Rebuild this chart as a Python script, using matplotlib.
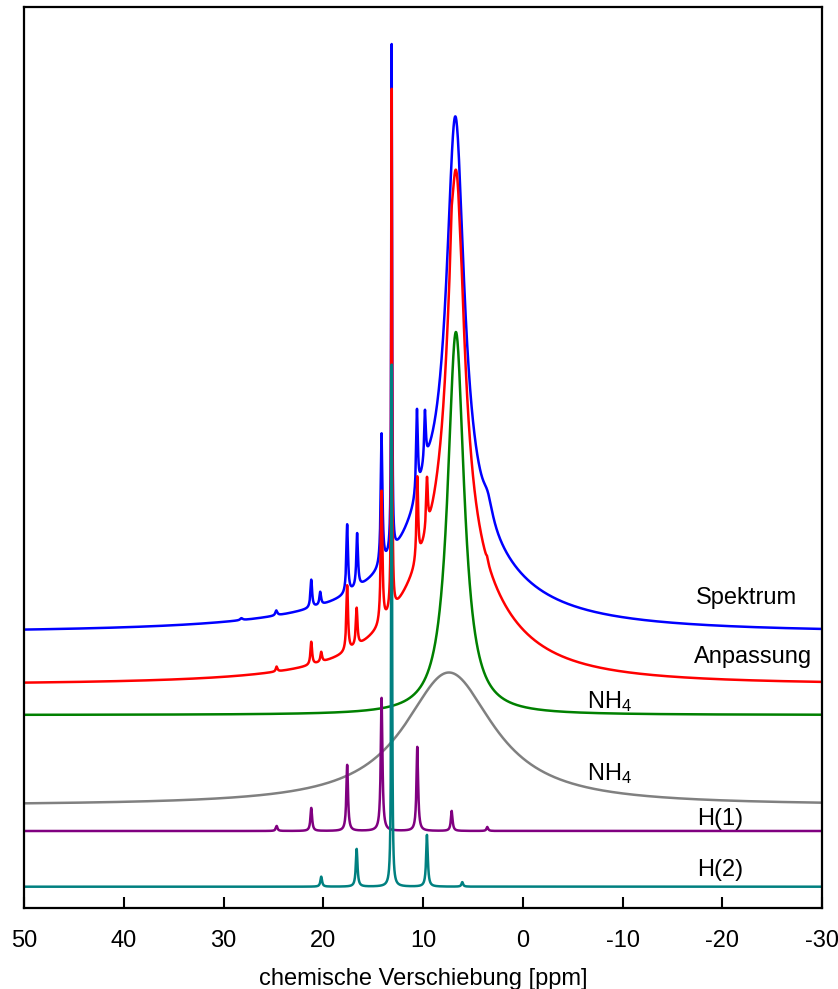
import numpy as np
import matplotlib
matplotlib.use("Agg")
import matplotlib.pyplot as plt

plt.rcParams['font.family'] = ['Liberation Sans', 'DejaVu Sans']
plt.rcParams['mathtext.default'] = 'regular'
plt.rcParams['axes.unicode_minus'] = False

# chemical shift axis in ppm
shift = np.linspace(-30, 50, 32001)

# Lorentzian line lists: position (ppm), height, half width at half maximum (ppm)
# H(2) proton site
h2_pos = [20.2, 16.65, 13.14, 9.6, 6.06]
h2_amp = [10.0, 37.7, 522.0, 51.7, 4.5]
h2_hwhm = [0.10, 0.10, 0.05, 0.10, 0.10]

# H(1) proton site
h1_pos = [24.67, 21.2, 17.6, 14.15, 10.57, 7.12, 3.55]
h1_amp = [5.0, 23.0, 66.0, 133.0, 84.0, 20.0, 4.0]
h1_hwhm = [0.10, 0.10, 0.10, 0.10, 0.10, 0.10, 0.10]

# ammonium, narrow line
nh4a_pos = [6.7]
nh4a_amp = [383.0]
nh4a_hwhm = [1.0]

# ammonium, broad line
nh4b_pos = [7.4]
nh4b_amp = [133.0]
nh4b_hwhm = [5.5]

# measured spectrum
spek_pos = [6.75, 7.5, 10.0, 9.8, 3.5,
            28.2, 24.7, 21.2, 20.3, 17.6, 16.6, 14.15, 13.14, 10.6, 9.8]
spek_amp = [388.0, 118.0, 10.0, 18.0, 18.0,
            2.0, 5.0, 28.0, 13.0, 69.0, 54.0, 132.0, 508.0, 84.0, 52.0]
spek_hwhm = [1.05, 5.5, 15.0, 1.2, 0.6,
             0.15, 0.12, 0.10, 0.10, 0.10, 0.10, 0.10, 0.05, 0.10, 0.10]

# vertical stacking offsets of the traces
offset_spek = 275.0
offset_fit = 223.0
offset_nh4a = 193.0
offset_nh4b = 102.5
offset_h1 = 77.0
offset_h2 = 21.3

# trace labels
names = ['Spektrum', 'Anpassung', 'NH$_4$', 'NH$_4$', 'H(1)', 'H(2)']

x_ticks = [50, 40, 30, 20, 10, 0, -10, -20, -30]
x_label = 'chemische Verschiebung [ppm]'


def lorentz(x, pos, amp, hwhm):
    y = np.zeros_like(x)
    for p, a, w in zip(pos, amp, hwhm):
        y += a / (1.0 + ((x - p) / w) ** 2)
    return y


h2 = lorentz(shift, h2_pos, h2_amp, h2_hwhm)
h1 = lorentz(shift, h1_pos, h1_amp, h1_hwhm)
nh4a = lorentz(shift, nh4a_pos, nh4a_amp, nh4a_hwhm)
nh4b = lorentz(shift, nh4b_pos, nh4b_amp, nh4b_hwhm)
fit = h2 + h1 + nh4a + nh4b
spek = lorentz(shift, spek_pos, spek_amp, spek_hwhm)

fig = plt.figure(figsize=(8.38, 9.89), dpi=100)
ax = fig.add_axes([24 / 838, 81 / 989, 798 / 838, 901 / 989])

lw = 1.8
ax.plot(shift, spek + offset_spek, color='#0000ff', lw=lw)
ax.plot(shift, fit + offset_fit, color='#ff0000', lw=lw)
ax.plot(shift, nh4a + offset_nh4a, color='#008000', lw=lw)
ax.plot(shift, nh4b + offset_nh4b, color='#808080', lw=lw)
ax.plot(shift, h1 + offset_h1, color='#800080', lw=lw)
ax.plot(shift, h2 + offset_h2, color='#008080', lw=lw)

# label placement (ppm, height)
label_x = [-17.37, -17.17, -6.44, -6.44, -17.47, -17.47]
label_y = [304, 245, 200, 128, 83, 32]
for name, lx, ly in zip(names, label_x, label_y):
    ax.text(lx, ly, name, fontsize=17, ha='left', va='baseline')

ax.set_xlim(50, -30)
ax.set_ylim(0, 901)
ax.set_xticks(x_ticks)
ax.set_xticklabels([str(t) for t in x_ticks])
ax.set_yticks([])
ax.tick_params(axis='x', direction='in', length=8, width=1.5,
               labelsize=17, pad=16, top=False)
for s in ax.spines.values():
    s.set_linewidth(1.6)
ax.set_xlabel(x_label, fontsize=17, labelpad=11)

fig.savefig('out.png', dpi=100)
